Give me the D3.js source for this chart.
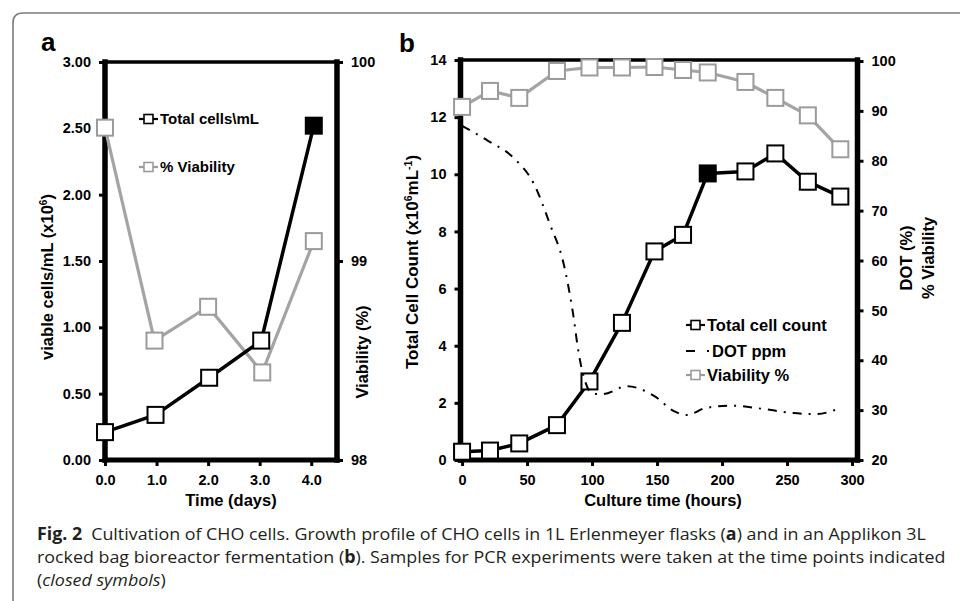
<!DOCTYPE html>
<html>
<head>
<meta charset="utf-8">
<script src="https://cdn.jsdelivr.net/npm/d3@7"></script>
<style>
  body { margin: 0; background: #fff; }
  svg text { font-family: "Liberation Sans", Arial, sans-serif; font-weight: bold; }
  svg text.caption { font-family: "Open Sans", "Noto Sans", sans-serif; font-weight: normal; }
</style>
</head>
<body>
<svg width="960" height="601"></svg>
<script>
// ---- panel a: Erlenmeyer flasks ----
var daysA = [0, 0.98, 2.02, 3.03, 4.05];
var cellsA = [0.21, 0.34, 0.62, 0.90, 2.52];
var viabDaysA = [0, 0.96, 2.0, 3.05, 4.05];
var viabA = [99.67, 98.60, 98.77, 98.44, 99.10];
var closedA = 4;              // index of the sampled (closed) point
var xTicksA = [0, 1, 2, 3, 4];
var yTicksA = [0, 0.5, 1, 1.5, 2, 2.5, 3];
var y2TicksA = [98, 99, 100];

// ---- panel b: rocked bag bioreactor ----
var hoursB = [0, 21.5, 44, 73, 98, 123, 148, 170, 189, 218, 241, 266, 291];
var cellsB = [0.29, 0.33, 0.58, 1.22, 2.75, 4.8, 7.3, 7.88, 10.03, 10.1, 10.73, 9.74, 9.22];
var viabB = [90.8, 94.0, 92.6, 98.0, 98.7, 98.7, 98.8, 98.2, 97.7, 95.8, 92.6, 89.1, 82.3];
var closedB = 8;
var dotHours = [0, 20, 40, 55, 68, 78, 85, 90, 95, 100, 108, 127, 148, 163, 173, 187, 207, 230, 255, 272, 291];
var dotValues = [87, 84, 80.5, 75.5, 67, 59.5, 50, 41, 35.5, 33.4, 33.2, 34.8, 32.8, 29.8, 29.0, 30.4, 30.9, 30.3, 29.4, 29.2, 30.4];
var xTicksB = [0, 50, 100, 150, 200, 250, 300];
var yTicksB = [0, 2, 4, 6, 8, 10, 12, 14];
var y2TicksB = [20, 30, 40, 50, 60, 70, 80, 90, 100];

var grey = "#a4a4a4", greyEdge = "#9b9b9b";
var svg = d3.select("svg");

// figure border (rounded corner top-left, runs off the page)
svg.append("path")
  .attr("d", "M13,601 V23 Q13,13 23,13 H960")
  .attr("fill", "none").attr("stroke", "#7b7b7b").attr("stroke-width", 1.6);

// styles d3 axis output to look like the Excel chart
function styleAxis(g, size) {
  g.attr("font-family", null).attr("font-size", null);
  g.selectAll("text").style("font-size", size + "px").attr("fill", "#000");
  g.selectAll(".tick line").style("stroke-width", "3px").style("stroke", "#000");
  g.select(".domain").remove();
}

// heavy plot frame: thick left/right/bottom, slightly lighter top
function frame(g, x0, x1, y0, y1) {
  var sides = [[x0, y1, x1, y1, 3.5], [x0, y0, x1, y0, 5], [x0, y0, x0, y1, 5.5], [x1, y0, x1, y1, 5.5]];
  g.selectAll(null).data(sides).enter().append("line")
    .attr("x1", function(d) { return d[0]; }).attr("y1", function(d) { return d[1]; })
    .attr("x2", function(d) { return d[2]; }).attr("y2", function(d) { return d[3]; })
    .style("stroke", "#000")
    .style("stroke-width", function(d) { return d[4] + "px"; })
    .style("stroke-linecap", "square");
}

function squares(g, xs, ys, x, y, edge, closed) {
  g.selectAll(null)
    .data(xs)
    .enter().append("rect")
      .attr("x", function(d) { return x(d) - 8; })
      .attr("y", function(d, i) { return y(ys[i]) - 8; })
      .attr("width", 16).attr("height", 16)
      .attr("fill", function(d, i) { return i === closed ? "#000" : "#fff"; })
      .attr("stroke", edge).attr("stroke-width", 2);
}

function series(g, xs, ys, x, y, colour, width) {
  var line = d3.line()
    .x(function(d) { return x(d); })
    .y(function(d, i) { return y(ys[i]); });
  g.append("path").datum(xs)
    .attr("d", line)
    .attr("fill", "none")
    .attr("stroke", colour)
    .attr("stroke-width", width)
    .attr("stroke-linejoin", "round");
}

function legendRow(g, x0, yRow, label, colour, size, dashed) {
  g.append("line")
    .attr("x1", x0).attr("x2", x0 + (dashed ? 25 : 19))
    .attr("y1", yRow).attr("y2", yRow)
    .attr("stroke", colour).attr("stroke-width", 2.2)
    .attr("stroke-dasharray", dashed ? "9,12,2,20" : null);
  if (!dashed) {
    g.append("rect")
      .attr("x", x0 + 5).attr("y", yRow - 4.5)
      .attr("width", 9).attr("height", 9)
      .attr("fill", "#fff").attr("stroke", colour).attr("stroke-width", 1.6);
  }
  g.append("text")
    .attr("x", x0 + (dashed ? 26 : 21)).attr("y", yRow + size * 0.36)
    .style("font-size", size + "px")
    .text(label);
}

// ================= panel a =================
var xa = d3.scaleLinear().domain([0, 4.5]).range([105, 337]);
var ya = d3.scaleLinear().domain([0, 3]).range([460, 62]);
var ya2 = d3.scaleLinear().domain([98, 100]).range([460, 62]);
var ga = svg.append("g");

ga.append("g").attr("transform", "translate(0,460)")
  .call(d3.axisBottom(xa).tickValues(xTicksA).tickFormat(d3.format(".1f"))
        .tickSize(6).tickSizeOuter(0).tickPadding(9))
  .call(styleAxis, 14.5);
ga.append("g").attr("transform", "translate(105,0)")
  .call(d3.axisLeft(ya).tickValues(yTicksA).tickFormat(d3.format(".2f"))
        .tickSize(6).tickSizeOuter(0).tickPadding(8))
  .call(styleAxis, 14.5);
ga.append("g").attr("transform", "translate(337,0)")
  .call(d3.axisRight(ya2).tickValues(y2TicksA).tickFormat(d3.format("d"))
        .tickSize(6).tickSizeOuter(0).tickPadding(8))
  .call(styleAxis, 14.5);
frame(ga, 105, 337, 460, 62);

series(ga, viabDaysA, viabA, xa, ya2, grey, 3.2);
squares(ga, viabDaysA, viabA, xa, ya2, greyEdge, -1);
series(ga, daysA, cellsA, xa, ya, "#000", 3.5);
squares(ga, daysA, cellsA, xa, ya, "#000", closedA);

legendRow(ga, 139, 119, "Total cells\\mL", "#000", 15, false);
legendRow(ga, 139, 167, "% Viability", greyEdge, 15, false);

ga.append("text").attr("x", 231).attr("y", 506).attr("text-anchor", "middle")
  .style("font-size", "16.5px").text("Time (days)");
var la = ga.append("text").attr("transform", "translate(53,277) rotate(-90)")
  .attr("text-anchor", "middle").style("font-size", "16.5px");
la.append("tspan").text("viable cells/mL (x10");
la.append("tspan").attr("dy", -6).style("font-size", "10px").text("6");
la.append("tspan").attr("dy", 6).text(")");
ga.append("text").attr("transform", "translate(368,352) rotate(-90)")
  .attr("text-anchor", "middle").style("font-size", "16.5px")
  .text("Viability (%)");
ga.append("text").attr("x", 41).attr("y", 51).style("font-size", "26px").text("a");

// ================= panel b =================
var xb = d3.scaleLinear().domain([-1.2, 304.2]).range([460.5, 857.5]);
var yb = d3.scaleLinear().domain([0, 14]).range([460, 60]);
var yb2 = d3.scaleLinear().domain([20, 100]).range([460, 61]);
var gb = svg.append("g");

gb.append("g").attr("transform", "translate(0,460)")
  .call(d3.axisBottom(xb).tickValues(xTicksB).tickFormat(d3.format("d"))
        .tickSize(6).tickSizeOuter(0).tickPadding(9))
  .call(styleAxis, 14.5);
gb.append("g").attr("transform", "translate(460.5,0)")
  .call(d3.axisLeft(yb).tickValues(yTicksB).tickFormat(d3.format("d"))
        .tickSize(6).tickSizeOuter(0).tickPadding(8))
  .call(styleAxis, 14.5);
gb.append("g").attr("transform", "translate(857.5,0)")
  .call(d3.axisRight(yb2).tickValues(y2TicksB).tickFormat(d3.format("d"))
        .tickSize(6).tickSizeOuter(0).tickPadding(8))
  .call(styleAxis, 14.5);
frame(gb, 460.5, 857.5, 460, 60);

series(gb, hoursB, viabB, xb, yb2, grey, 3.2);
squares(gb, hoursB, viabB, xb, yb2, greyEdge, -1);
series(gb, hoursB, cellsB, xb, yb, "#000", 3.5);
squares(gb, hoursB, cellsB, xb, yb, "#000", closedB);

var dotLine = d3.line()
  .curve(d3.curveMonotoneX)
  .x(function(d) { return xb(d); })
  .y(function(d, i) { return yb2(dotValues[i]); });
gb.append("path").datum(dotHours)
  .attr("d", dotLine)
  .attr("fill", "none").attr("stroke", "#000").attr("stroke-width", 2)
  .attr("stroke-dasharray", "9,7,2,7");

legendRow(gb, 686, 325, "Total cell count", "#000", 16.5, false);
legendRow(gb, 686, 351, "DOT ppm", "#000", 16.5, true);
legendRow(gb, 686, 375, "Viability %", greyEdge, 16.5, false);

gb.append("text").attr("x", 663).attr("y", 506).attr("text-anchor", "middle")
  .style("font-size", "16.5px").text("Culture time (hours)");
var tl = gb.append("text").attr("transform", "translate(418,262) rotate(-90)")
  .attr("text-anchor", "middle").style("font-size", "17px");
tl.append("tspan").text("Total Cell Count (x10");
tl.append("tspan").attr("dy", -6).style("font-size", "10.5px").text("6");
tl.append("tspan").attr("dy", 6).text("mL");
tl.append("tspan").attr("dy", -6).style("font-size", "10.5px").text("-1");
tl.append("tspan").attr("dy", 6).text(")");
gb.append("text").attr("transform", "translate(912,258) rotate(-90)")
  .attr("text-anchor", "middle").style("font-size", "16.5px").text("DOT (%)");
gb.append("text").attr("transform", "translate(934,258) rotate(-90)")
  .attr("text-anchor", "middle").style("font-size", "16.5px").text("% Viability");
gb.append("text").attr("x", 399).attr("y", 52).style("font-size", "26px").text("b");

// ================= caption =================
var captionLines = [
  [["b", "Fig. 2"], ["n", "\u2002Cultivation of CHO cells. Growth profile of CHO cells in 1L Erlenmeyer flasks ("], ["b", "a"], ["n", ") and in an Applikon 3L"]],
  [["n", "rocked bag bioreactor fermentation ("], ["b", "b"], ["n", "). Samples for PCR experiments were taken at the time points indicated"]],
  [["n", "("], ["i", "closed symbols"], ["n", ")"]]
];
var captionX = 37, captionRight = 946;
var captionY = [540, 563, 586];

var capTexts = captionLines.map(function(parts, li) {
  var t = svg.append("text").attr("class", "caption")
    .attr("x", 0).attr("y", 0)
    .attr("fill", "#231f20").style("font-size", "17px");
  parts.forEach(function(p) {
    t.append("tspan")
      .style("font-weight", p[0] === "b" ? "bold" : "normal")
      .style("font-style", p[0] === "i" ? "italic" : "normal")
      .text(p[1]);
  });
  return t;
});
// squeeze every line by the same factor so line 2 fills the column (condensed face)
var squeeze = (captionRight - captionX) / capTexts[1].node().getComputedTextLength();
capTexts.forEach(function(t, li) {
  t.attr("transform", "translate(" + captionX + "," + captionY[li] + ") scale(" + squeeze + ",1)");
});
</script>
</body>
</html>
